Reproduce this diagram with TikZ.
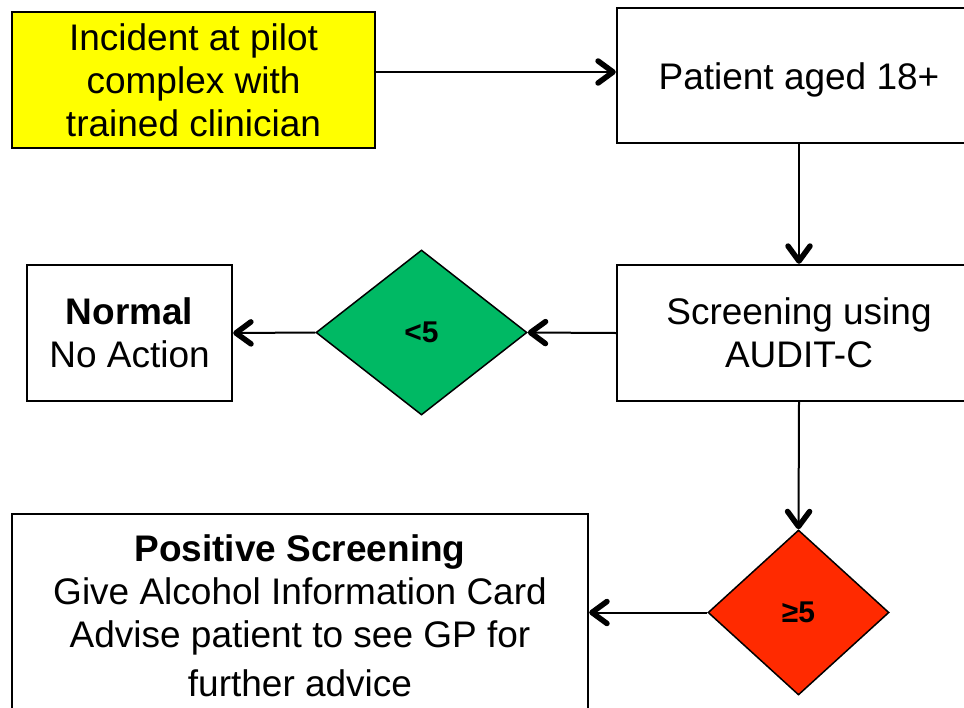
\documentclass[tikz,border=0pt]{standalone}
\usepackage{fontspec}
\setmainfont{Liberation Sans}
\usetikzlibrary{shapes.geometric,arrows.meta}
\definecolor{boxyellow}{RGB}{255,255,0}
\definecolor{dgreen}{RGB}{0,185,100}
\definecolor{dred}{RGB}{255,42,0}
\tikzset{
  box/.style={draw=black, line width=2.4pt, fill=white, align=center, inner sep=0pt,
    font=\fontsize{37}{43}\selectfont},
  decision/.style={draw=black, line width=1.5pt, diamond, inner sep=0pt,
    font=\fontsize{30}{33}\selectfont\bfseries},
  arr/.style={line width=2pt, -{Straight Barb[length=15pt,width=22pt,line width=5.5pt,round]}},
}
\begin{document}
\begin{tikzpicture}[x=1pt,y=-1pt]
\useasboundingbox (0,0) rectangle (964,707);
\clip (0,0) rectangle (964,707);
\fill[white] (0,0) rectangle (964,707);
\node[box, fill=boxyellow, minimum width=363pt, minimum height=136pt] (inc) at (193.5,80)
  {Incident at pilot\\complex with\\trained clinician};
\node[box, minimum width=364pt, minimum height=135pt, text height=35pt, text depth=8pt] (pat) at (799,75.5) {Patient aged 18+};
\node[box, minimum width=364pt, minimum height=136pt] (scr) at (799,333) {Screening using\\AUDIT-C};
\node[decision, fill=dgreen, minimum width=211pt, minimum height=165pt] (lt) at (421.5,332.5) {<5};
\node[box, minimum width=205pt, minimum height=136pt] (nor) at (129.5,333) {\textbf{Normal}\\No Action};
\node[decision, fill=dred, minimum width=181pt, minimum height=165pt] (ge) at (798.5,612.5) {≥5};
\node[box, minimum width=576pt, minimum height=204pt] (pos) at (300,616)
  {\textbf{Positive Screening}\\Give Alcohol Information Card\\Advise patient to see GP for\\[6pt]further advice};
\draw[arr] (inc.east |- 0,72) -- (pat.west |- 0,72);
\draw[arr] (pat.south) -- (scr.north);
\draw[arr] (scr.west) -- (lt.east);
\draw[arr] (lt.west) -- (nor.east);
\draw[arr] (scr.south) -- (ge.north);
\draw[arr] (ge.west) -- (pos.east |- ge.west);
\end{tikzpicture}
\end{document}
